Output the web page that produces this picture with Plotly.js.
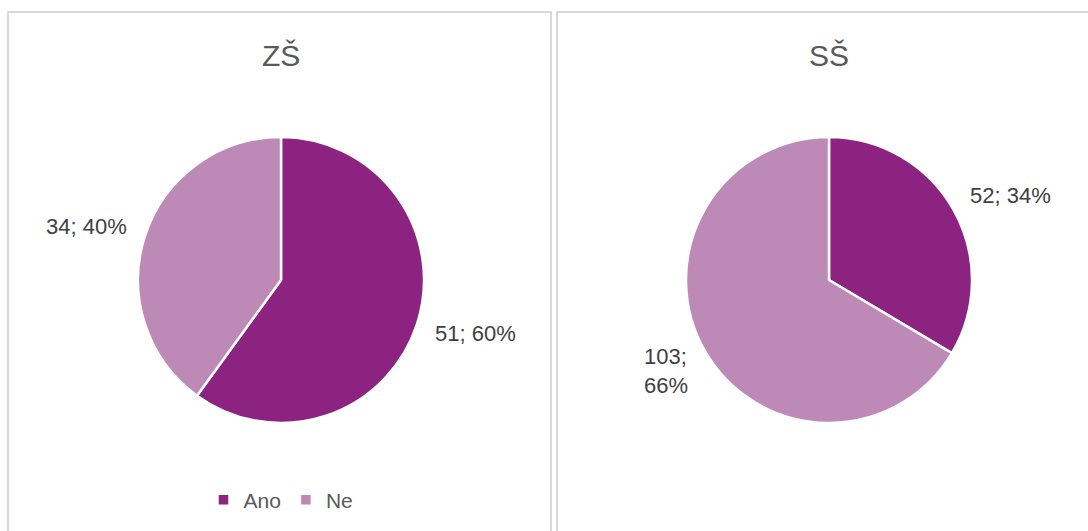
<!DOCTYPE html>
<html>
<head>
<meta charset="utf-8">
<script src="https://cdn.plot.ly/plotly-3.0.1.min.js"></script>
<style>
  html, body { margin: 0; padding: 0; background: #ffffff; overflow: hidden; }
  #chart { width: 1088px; height: 531px; }
</style>
</head>
<body>
<div id="chart"></div>
<script>
// ---- data ----
const categories = ['Ano', 'Ne'];
const chartTitles = ['ZŠ', 'SŠ'];
const valuesZS = [51, 34];
const valuesSS = [52, 103];

const colors = ['#8C2381', '#BD89B7'];

// ---- layout helpers (pixel geometry of the figure) ----
const W = 1088, H = 531;
const pies = [
  { values: valuesZS, title: chartTitles[0], cx: 281, cy: 280, r: 143, wrap: [false, false], legend: 'legend' },
  { values: valuesSS, title: chartTitles[1], cx: 829, cy: 280, r: 143, wrap: [false, true], legend: 'legend2' }
];
const px = x => x / W;
const py = y => 1 - y / H;

const traces = [];
const annotations = [];
const labelR = 160;      // radial distance of label anchor (px)
const lineH = 24;        // label line height (px)

pies.forEach((p, i) => {
  traces.push({
    type: 'pie',
    labels: categories,
    values: p.values,
    sort: false,
    direction: 'clockwise',
    rotation: 0,
    marker: { colors: colors, line: { color: '#ffffff', width: 2.5 } },
    textinfo: 'none',
    hoverinfo: 'none',
    showlegend: true,
    legend: p.legend,
    domain: { x: [px(p.cx - p.r), px(p.cx + p.r)], y: [py(p.cy + p.r), py(p.cy - p.r)] }
  });

  annotations.push({
    text: p.title, xref: 'paper', yref: 'paper',
    x: px(p.cx), y: py(56), xanchor: 'center', yanchor: 'middle',
    showarrow: false, font: { size: 30, color: '#595959' }
  });

  const total = p.values.reduce((a, b) => a + b, 0);
  let cum = 0;
  p.values.forEach((v, j) => {
    const frac = v / total;
    const mid = (cum + frac / 2) * 2 * Math.PI;
    cum += frac;
    const dx = Math.sin(mid), dy = -Math.cos(mid);
    const pct = Math.round(frac * 100);
    const text = p.wrap[j] ? (v + ';<br>' + pct + '%') : (v + '; ' + pct + '%');
    const lines = p.wrap[j] ? 2 : 1;
    const ax = p.cx + labelR * dx;
    const ay = p.cy + labelR * dy + dy * lines * lineH / 2;
    annotations.push({
      text: text, xref: 'paper', yref: 'paper',
      x: px(ax), y: py(ay),
      xanchor: dx >= 0 ? 'left' : 'right', yanchor: 'middle', align: 'left',
      showarrow: false, font: { size: 22, color: '#404040' }
    });
  });
});

const legendBase = {
  orientation: 'h', xanchor: 'center', yanchor: 'middle',
  font: { size: 21, color: '#595959' }, bgcolor: 'rgba(0,0,0,0)', itemclick: false, itemdoubleclick: false
};

const layout = {
  width: W, height: H,
  margin: { l: 0, r: 0, t: 0, b: 0 },
  paper_bgcolor: '#ffffff',
  font: { family: '"Liberation Sans", Arial, sans-serif', color: '#595959' },
  annotations: annotations,
  legend: Object.assign({}, legendBase, { x: px(281), y: py(500) }),
  legend2: Object.assign({}, legendBase, { x: px(829), y: py(500) }),
  shapes: [
    { type: 'rect', xref: 'paper', yref: 'paper', x0: px(8), x1: px(551), y0: py(560), y1: py(12),
      line: { color: '#d9d9d9', width: 2 }, fillcolor: 'rgba(0,0,0,0)', layer: 'below' },
    { type: 'rect', xref: 'paper', yref: 'paper', x0: px(557), x1: px(1100), y0: py(560), y1: py(12),
      line: { color: '#d9d9d9', width: 2 }, fillcolor: 'rgba(0,0,0,0)', layer: 'below' }
  ]
};

Plotly.newPlot('chart', traces, layout, { staticPlot: true, displayModeBar: false });
</script>
</body>
</html>
